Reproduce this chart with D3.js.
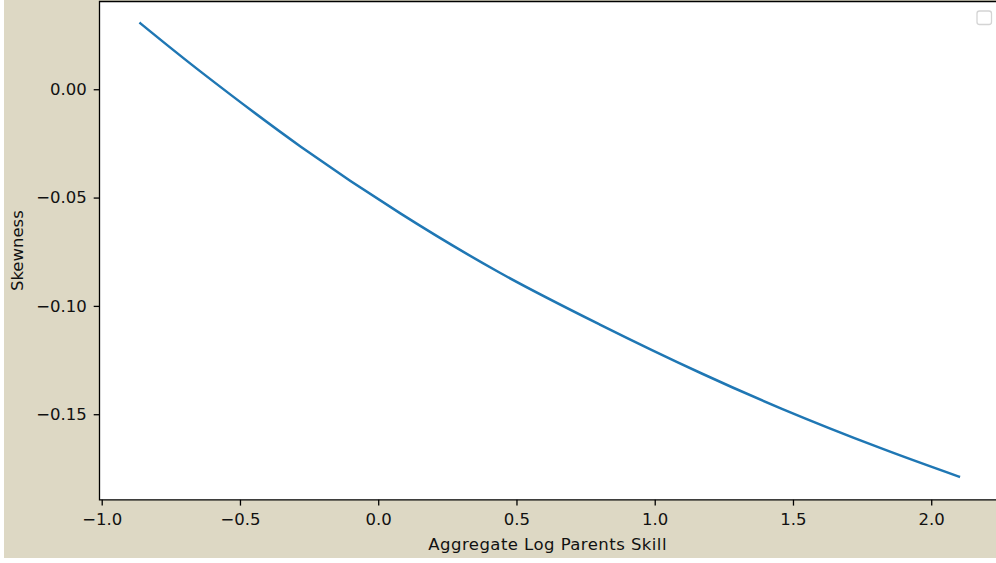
<!DOCTYPE html>
<html>
<head>
<script src="https://d3js.org/d3.v7.min.js" charset="utf-8"></script>
<style>
    body { margin: 0; background: #fff; }
    text { font-family: "DejaVu Sans", sans-serif; }
</style>
</head>
<body>
<script>
    // data
    var parentSkill = [-0.86, -0.64, -0.28, 0.08, 0.44, 0.80, 1.17, 1.46, 1.82, 2.10];
    var skewness = [0.0304, 0.0079, -0.0265, -0.0573, -0.0847, -0.1085, -0.1312, -0.1475, -0.1658, -0.1788];
    var xTicks = [-1.0, -0.5, 0.0, 0.5, 1.0, 1.5, 2.0];
    var yTicks = [0.00, -0.05, -0.10, -0.15];

    var w = 996, h = 563;
    var plotLeft = 99.5, plotTop = 1.5, plotRight = 999.8, plotBottom = 499.8;
    var fontSize = 16.5;

    var svg = d3.select("body")
                .append("svg")
                .attr("width", w)
                .attr("height", h);

    // figure background
    svg.append("rect")
        .attr("x", 4).attr("y", 0)
        .attr("width", w - 4).attr("height", 558)
        .attr("fill", "#ddd8c4");

    // axes background
    svg.append("rect")
        .attr("x", plotLeft).attr("y", plotTop)
        .attr("width", plotRight - plotLeft).attr("height", plotBottom - plotTop)
        .attr("fill", "#fff");

    var x = d3.scaleLinear().domain([-1.008, 2.248]).range([plotLeft, plotRight]);
    var y = d3.scaleLinear().domain([-0.1895, 0.0405]).range([plotBottom, plotTop]);

    var line = d3.line()
        .x(function(d, i) { return x(parentSkill[i]); })
        .y(function(d) { return y(d); })
        .curve(d3.curveCatmullRom.alpha(0.5));

    svg.append("path")
        .datum(skewness)
        .attr("d", line)
        .attr("fill", "none")
        .attr("stroke", "#1f77b4")
        .attr("stroke-width", 2.5)
        .attr("stroke-linecap", "square");

    var xAxis = svg.append("g")
        .attr("transform", "translate(0," + plotBottom + ")")
        .call(d3.axisBottom(x).tickValues(xTicks).tickFormat(d3.format(".1f")).tickSize(5.8).tickPadding(8));

    var yAxis = svg.append("g")
        .attr("transform", "translate(" + plotLeft + ",0)")
        .call(d3.axisLeft(y).tickValues(yTicks).tickFormat(d3.format(".2f")).tickSize(5.8).tickPadding(7));

    [xAxis, yAxis].forEach(function(a) {
        a.select(".domain").remove();
        a.selectAll(".tick line").attr("stroke", "#000").attr("stroke-width", 1.3);
        a.selectAll(".tick text")
            .attr("fill", "#111")
            .style("font-size", fontSize + "px")
            .style("font-family", "DejaVu Sans");
    });

    // spines
    svg.append("path")
        .attr("d", "M" + plotLeft + "," + plotBottom + "V" + plotTop + "H" + plotRight + "V" + plotBottom + "Z")
        .attr("fill", "none")
        .attr("stroke", "#000")
        .attr("stroke-width", 1.3);

    // axis labels
    svg.append("text")
        .attr("x", (plotLeft + plotRight) / 2 - 2)
        .attr("y", 550)
        .attr("text-anchor", "middle")
        .style("font-size", fontSize + "px")
        .style("letter-spacing", "0.45px")
        .attr("fill", "#111")
        .text("Aggregate Log Parents Skill");

    svg.append("text")
        .attr("transform", "translate(23," + ((plotTop + plotBottom) / 2) + ") rotate(-90)")
        .attr("text-anchor", "middle")
        .style("font-size", fontSize + "px")
        .attr("fill", "#111")
        .text("Skewness");

    // empty legend frame
    svg.append("rect")
        .attr("x", 977).attr("y", 11)
        .attr("width", 14.5).attr("height", 13.5)
        .attr("rx", 2.5)
        .attr("fill", "#fff")
        .attr("stroke", "#d4d4d4")
        .attr("stroke-width", 1.3);
</script>
</body>
</html>
